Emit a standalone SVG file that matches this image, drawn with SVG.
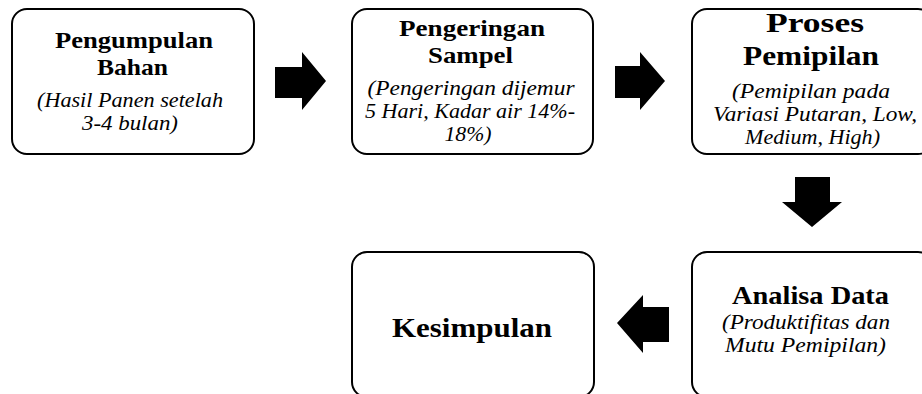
<svg xmlns="http://www.w3.org/2000/svg" width="922" height="394" viewBox="0 0 922 394">
<style>
.box{fill:#fff;stroke:#000;stroke-width:2}
.t{font-family:"Liberation Serif",serif;font-weight:bold;font-size:24px;text-anchor:middle;fill:#000}
.s{font-family:"Liberation Serif",serif;font-style:italic;font-size:20px;text-anchor:middle;fill:#000}
.arr{fill:#000}
</style>
<rect width="922" height="394" fill="#fff"/>
<g id="connectors">
<polygon class="arr" points="275,67 302,67 302,52 326,81 302,110 302,98 275,98"/>
<polygon class="arr" points="615,66 640,66 640,52 665,81 640,110 640,98 615,98"/>
<polygon class="arr" points="795,177 830,177 830,202 842,202 812,227 782,202 795,202"/>
<polygon class="arr" points="669,307 643,307 643,295 617,323 643,353 643,342 669,342"/>
</g>
<g id="n1">
<rect class="box" x="12" y="9" width="242" height="145" rx="15"/>
<text class="t" x="134" y="48" textLength="158" lengthAdjust="spacingAndGlyphs">Pengumpulan</text>
<text class="t" x="132.5" y="75" textLength="71" lengthAdjust="spacingAndGlyphs">Bahan</text>
<text class="s" x="130" y="107" textLength="186" lengthAdjust="spacingAndGlyphs">(Hasil Panen setelah</text>
<text class="s" x="130" y="130" textLength="96" lengthAdjust="spacingAndGlyphs">3-4 bulan)</text>
</g>
<g id="n2">
<rect class="box" x="352" y="9" width="241" height="145" rx="15"/>
<text class="t" x="472" y="36" textLength="146" lengthAdjust="spacingAndGlyphs">Pengeringan</text>
<text class="t" x="470.5" y="63" textLength="85" lengthAdjust="spacingAndGlyphs">Sampel</text>
<text class="s" x="471" y="95" textLength="207" lengthAdjust="spacingAndGlyphs">(Pengeringan dijemur</text>
<text class="s" x="470" y="118" textLength="210" lengthAdjust="spacingAndGlyphs">5 Hari, Kadar air 14%-</text>
<text class="s" x="468" y="141" textLength="47" lengthAdjust="spacingAndGlyphs">18%)</text>
</g>
<g id="n3">
<rect class="box" x="692" y="9" width="241" height="145" rx="15"/>
<text class="t" x="815" y="32" style="font-size:28px" textLength="98" lengthAdjust="spacingAndGlyphs">Proses</text>
<text class="t" x="811" y="65" style="font-size:28px" textLength="136" lengthAdjust="spacingAndGlyphs">Pemipilan</text>
<text class="s" x="811" y="98" textLength="158" lengthAdjust="spacingAndGlyphs">(Pemipilan pada</text>
<text class="s" x="815" y="121" textLength="204" lengthAdjust="spacingAndGlyphs">Variasi Putaran, Low,</text>
<text class="s" x="812.5" y="144" textLength="135" lengthAdjust="spacingAndGlyphs">Medium, High)</text>
</g>
<g id="n4">
<rect class="box" x="692" y="252" width="241" height="145" rx="15"/>
<text class="t" x="810.5" y="304" style="font-size:25px" textLength="157" lengthAdjust="spacingAndGlyphs">Analisa Data</text>
<text class="s" x="806" y="329" textLength="168" lengthAdjust="spacingAndGlyphs">(Produktifitas dan</text>
<text class="s" x="805.5" y="352" textLength="161" lengthAdjust="spacingAndGlyphs">Mutu Pemipilan)</text>
</g>
<g id="n5">
<rect class="box" x="352" y="252" width="242" height="145" rx="15"/>
<text class="t" x="472" y="337" style="font-size:28px" textLength="160" lengthAdjust="spacingAndGlyphs">Kesimpulan</text>
</g>
</svg>
